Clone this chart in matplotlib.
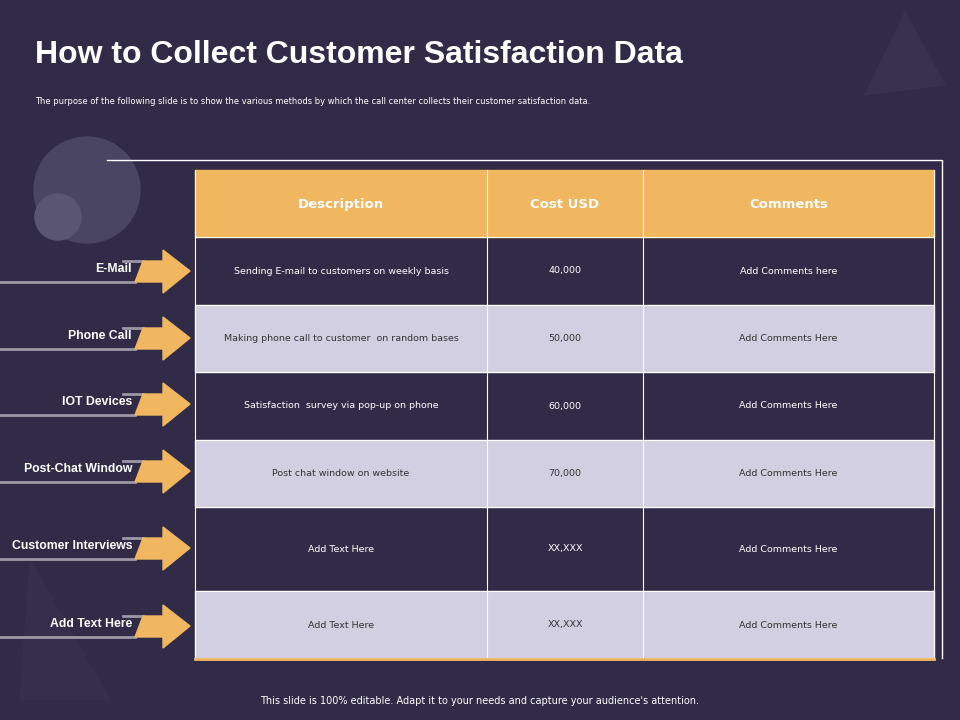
import matplotlib
matplotlib.use("Agg")
import matplotlib.pyplot as plt
from matplotlib.patches import Polygon, Rectangle, Circle

title = "How to Collect Customer Satisfaction Data"
subtitle = "The purpose of the following slide is to show the various methods by which the call center collects their customer satisfaction data."
footer = "This slide is 100% editable. Adapt it to your needs and capture your audience's attention."
headers = ["Description", "Cost USD", "Comments"]
methods = ["E-Mail", "Phone Call", "IOT Devices", "Post-Chat Window", "Customer Interviews", "Add Text Here"]
descriptions = ["Sending E-mail to customers on weekly basis", "Making phone call to customer  on random bases",
                "Satisfaction  survey via pop-up on phone", "Post chat window on website", "Add Text Here", "Add Text Here"]
costs = ["40,000", "50,000", "60,000", "70,000", "XX,XXX", "XX,XXX"]
comments = ["Add Comments here", "Add Comments Here", "Add Comments Here", "Add Comments Here",
            "Add Comments Here", "Add Comments Here"]

BG = "#312b47"; ORANGE = "#f0b660"; LIGHT = "#d2cfe2"; GRAY = "#9a97a8"

fig = plt.figure(figsize=(9.6, 7.2), dpi=100)
fig.patch.set_facecolor(BG)
ax = fig.add_axes([0, 0, 1, 1])
ax.set_xlim(0, 960); ax.set_ylim(720, 0); ax.axis("off")
ax.set_facecolor(BG)

# decorations
ax.add_patch(Circle((87, 190), 53, color="#4a4562", zorder=1))
ax.add_patch(Circle((58, 217), 23, color="#5a5573", zorder=1))
ax.add_patch(Polygon([(905, 12), (945, 85), (865, 95)], color="#38324f", zorder=1))
ax.add_patch(Polygon([(30, 560), (110, 700), (20, 700)], color="#352f4c", zorder=1))

ax.text(35, 55, title, color="white", fontsize=23, fontweight="bold", va="center", ha="left",
        family="Liberation Sans")
ax.text(35, 102, subtitle, color="white", fontsize=6.0, va="center", ha="left")
ax.text(480, 701, footer, color="white", fontsize=7, va="center", ha="center")

# frame line
ax.plot([107, 942, 942], [160, 160, 658], color="white", lw=1, zorder=2)

# table
cols = [195, 487, 643, 934]
rows = [170, 237, 305, 372, 440, 507, 591, 659]
ax.add_patch(Rectangle((cols[0], rows[0]), cols[-1] - cols[0], rows[1] - rows[0], color=ORANGE, zorder=2))
for j, h in enumerate(headers):
    ax.text((cols[j] + cols[j + 1]) / 2, (rows[0] + rows[1]) / 2 + 1, h, color="white", fontsize=9.5,
            fontweight="bold", ha="center", va="center", zorder=4)
for i in range(len(methods)):
    y0, y1 = rows[i + 1], rows[i + 2]
    light = i % 2 == 1
    if light:
        ax.add_patch(Rectangle((cols[0], y0), cols[-1] - cols[0], y1 - y0, color=LIGHT, zorder=2))
    tc = "#333333" if light else "white"
    for j, v in enumerate([descriptions[i], costs[i], comments[i]]):
        ax.text((cols[j] + cols[j + 1]) / 2, (y0 + y1) / 2, v, color=tc, fontsize=6.8, ha="center", va="center", zorder=4)
for x in cols[1:-1]:
    ax.plot([x, x], [rows[0], rows[-1]], color="white", lw=0.8, zorder=3)
ax.plot([cols[0], cols[0]], [rows[0], rows[-1]], color="white", lw=0.8, zorder=3)
ax.plot([cols[-1], cols[-1]], [rows[0], rows[-1]], color="white", lw=0.8, zorder=3)
for y in rows[1:-1]:
    ax.plot([cols[0], cols[-1]], [y, y], color="white", lw=0.8, zorder=3)
ax.plot([cols[0], cols[-1]], [rows[-1], rows[-1]], color=ORANGE, lw=2, zorder=3)

# arrows
centers = [271, 338, 404, 471, 548, 626]
for m, c in zip(methods, centers):
    t, b = c - 10, c + 11
    ax.add_patch(Polygon([(143, t), (163, t), (163, c - 21), (190, c), (163, c + 22), (163, b), (135, b)],
                         color=ORANGE, zorder=3))
    ax.plot([0, 135], [b, b], color=GRAY, lw=2, zorder=2)
    ax.plot([123, 143], [t, t], color=GRAY, lw=2, zorder=2)
    ax.text(132, c - 2, m, color="white", fontsize=8.8, fontweight="bold", ha="right", va="center", zorder=4,
            family="Liberation Sans")

fig.savefig("out.png", dpi=100, facecolor=BG)
